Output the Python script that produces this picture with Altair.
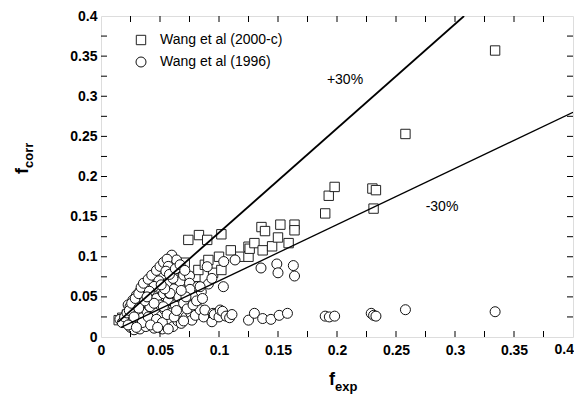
import altair as alt
import pandas as pd

# ---------------- data ----------------
# Wang et al (2000-c) squares
sq_x = [0.015, 0.018, 0.022, 0.028, 0.035, 0.040, 0.045, 0.050, 0.055, 0.058,
        0.060, 0.062, 0.065, 0.066, 0.068, 0.071, 0.074, 0.077, 0.080, 0.0825,
        0.083, 0.088, 0.090, 0.091, 0.095, 0.100, 0.102, 0.102, 0.110, 0.118,
        0.125, 0.125, 0.126, 0.130, 0.136, 0.137, 0.139, 0.145, 0.150, 0.152,
        0.159, 0.164, 0.164, 0.190, 0.193, 0.198, 0.230, 0.233, 0.231, 0.258,
        0.334]
sq_y = [0.021, 0.024, 0.028, 0.033, 0.040, 0.046, 0.050, 0.058, 0.047, 0.064,
        0.055, 0.071, 0.043, 0.078, 0.085, 0.0926, 0.121, 0.052, 0.075, 0.0835,
        0.127, 0.090, 0.121, 0.096, 0.080, 0.100, 0.128, 0.0835, 0.108, 0.100,
        0.1125, 0.100, 0.110, 0.117, 0.137, 0.108, 0.132, 0.113, 0.124, 0.140,
        0.117, 0.140, 0.133, 0.154, 0.176, 0.187, 0.185, 0.183, 0.160, 0.253,
        0.357]

# Wang et al (1996) circles
ci_x = [0.016, 0.018, 0.020, 0.022, 0.023, 0.025, 0.025, 0.027, 0.027, 0.028,
        0.030, 0.030, 0.031, 0.033, 0.033, 0.034, 0.035, 0.036, 0.037, 0.038,
        0.038, 0.039, 0.040, 0.041, 0.042, 0.043, 0.044, 0.044, 0.045, 0.046,
        0.046, 0.047, 0.048, 0.049, 0.050, 0.051, 0.051, 0.052, 0.053, 0.053,
        0.054, 0.055, 0.056, 0.057, 0.058, 0.058, 0.059, 0.060, 0.060, 0.061,
        0.062, 0.063, 0.064, 0.065, 0.065, 0.066, 0.067, 0.067, 0.068, 0.069,
        0.070, 0.070, 0.072, 0.074, 0.075, 0.075, 0.076, 0.077, 0.079, 0.080,
        0.082, 0.084, 0.085, 0.087, 0.088, 0.090, 0.091, 0.094, 0.094, 0.095,
        0.096, 0.100, 0.101, 0.103, 0.1037, 0.104, 0.106, 0.109, 0.111, 0.1136,
        0.125, 0.130, 0.1356, 0.137, 0.144, 0.149, 0.150, 0.151, 0.158, 0.163,
        0.164, 0.190, 0.1935, 0.198, 0.229, 0.231, 0.233, 0.258, 0.334, 0.0415,
        0.0528, 0.0585, 0.0246, 0.0754, 0.084,
        0.024, 0.026, 0.029, 0.032, 0.034, 0.036, 0.040, 0.043, 0.047, 0.050,
        0.053, 0.056, 0.057, 0.055, 0.049, 0.045, 0.041, 0.037, 0.032, 0.028,
        0.035, 0.040, 0.047, 0.052, 0.056, 0.062, 0.064, 0.070, 0.073, 0.078,
        0.081, 0.086, 0.072, 0.068, 0.061, 0.058, 0.063, 0.067, 0.071, 0.023,
        0.030, 0.042, 0.048, 0.057, 0.054, 0.051, 0.045, 0.039]
ci_y = [0.022, 0.018, 0.025, 0.030, 0.040, 0.034, 0.012, 0.046, 0.020, 0.009,
        0.030, 0.052, 0.016, 0.057, 0.010, 0.040, 0.024, 0.050, 0.061, 0.065,
        0.013, 0.032, 0.045, 0.038, 0.068, 0.020, 0.071, 0.056, 0.011, 0.073,
        0.030, 0.048, 0.062, 0.017, 0.040, 0.079, 0.026, 0.010, 0.054, 0.076,
        0.034, 0.014, 0.067, 0.045, 0.022, 0.054, 0.085, 0.102, 0.030, 0.013,
        0.060, 0.040, 0.096, 0.071, 0.020, 0.050, 0.069, 0.031, 0.017, 0.084,
        0.077, 0.042, 0.025, 0.060, 0.076, 0.067, 0.030, 0.021, 0.052, 0.027,
        0.063, 0.034, 0.0565, 0.025, 0.0336, 0.0876, 0.066, 0.073, 0.019, 0.0295,
        0.028, 0.025, 0.0336, 0.032, 0.0627, 0.094, 0.026, 0.024, 0.028, 0.096,
        0.021, 0.0295, 0.086, 0.023, 0.022, 0.091, 0.080, 0.027, 0.0295, 0.089,
        0.076, 0.026, 0.025, 0.026, 0.0295, 0.027, 0.026, 0.034, 0.0315, 0.0378,
        0.0378, 0.0545, 0.0378, 0.0594, 0.0627,
        0.033, 0.042, 0.048, 0.054, 0.062, 0.067, 0.072, 0.077, 0.083, 0.088,
        0.093, 0.097, 0.088, 0.082, 0.070, 0.063, 0.057, 0.045, 0.036, 0.025,
        0.018, 0.025, 0.022, 0.018, 0.028, 0.025, 0.033, 0.020, 0.035, 0.040,
        0.045, 0.048, 0.050, 0.058, 0.073, 0.078, 0.085, 0.090, 0.083, 0.015,
        0.012, 0.015, 0.012, 0.010, 0.060, 0.065, 0.042, 0.050]

# +30% / -30% reference lines (end points)
up_x = [0.0145, 0.3077]
up_y = [0.0189, 0.400]
lo_x = [0.017, 0.400]
lo_y = [0.0119, 0.280]

# axis label values and inner tick values
label_vals = [0, 0.05, 0.1, 0.15, 0.2, 0.25, 0.3, 0.35, 0.4]
tick_vals = [0.025, 0.05, 0.075, 0.1, 0.125, 0.15, 0.175, 0.2, 0.225, 0.25,
             0.275, 0.3, 0.325, 0.35, 0.375]
last_x_label = "0.4"

legend_names = ["Wang et al (2000-c)", "Wang et al (1996)"]

# ---------------- chart ----------------
W, H = 472, 321
FONT = "Liberation Sans"

xs = alt.Scale(domain=[0, 0.4], nice=False, zero=False)
ys = alt.Scale(domain=[0, 0.4], nice=False, zero=False)

sq_df = pd.DataFrame({"x": sq_x, "y": sq_y})
ci_df = pd.DataFrame({"x": ci_x, "y": ci_y})
tick_df = pd.DataFrame({"t": tick_vals})

x_axis = alt.Axis(values=label_vals, ticks=False, domain=False, grid=False,
                  labelExpr="datum.value > 0.39 ? '' : format(datum.value, '.2~f')",
                  title=None, labelFont=FONT, labelFontSize=14, labelFontWeight="bold",
                  labelColor="black", labelPadding=6, labelFlush=False)
y_axis = alt.Axis(values=label_vals, format=".2~f", ticks=False, domain=False, grid=False,
                  title=None, labelFont=FONT, labelFontSize=14, labelFontWeight="bold",
                  labelColor="black", labelPadding=4, labelFlush=False)

base_axes = alt.Chart(pd.DataFrame({"x": [0.0], "y": [0.0]})).mark_point(opacity=0).encode(
    x=alt.X("x:Q", scale=xs, axis=x_axis),
    y=alt.Y("y:Q", scale=ys, axis=y_axis),
)

squares = alt.Chart(sq_df).mark_point(
    shape="square", size=88, filled=True, fill="white", stroke="#222", strokeWidth=1, opacity=1
).encode(x=alt.X("x:Q", scale=xs), y=alt.Y("y:Q", scale=ys))

circles = alt.Chart(ci_df).mark_point(
    shape="circle", size=100, filled=True, fill="white", stroke="#111", strokeWidth=1, opacity=1
).encode(x=alt.X("x:Q", scale=xs), y=alt.Y("y:Q", scale=ys))

upper = alt.Chart(pd.DataFrame({"x": up_x, "y": up_y})).mark_line(
    color="black", strokeWidth=1.8, clip=True
).encode(x=alt.X("x:Q", scale=xs), y=alt.Y("y:Q", scale=ys))

lower = alt.Chart(pd.DataFrame({"x": lo_x, "y": lo_y})).mark_line(
    color="black", strokeWidth=1.3, clip=True
).encode(x=alt.X("x:Q", scale=xs), y=alt.Y("y:Q", scale=ys))

tk = dict(color="black", strokeWidth=1)
tb = alt.Chart(tick_df).mark_rule(**tk).encode(x=alt.X("t:Q", scale=xs), y=alt.value(H), y2=alt.value(H - 6))
tt = alt.Chart(tick_df).mark_rule(**tk).encode(x=alt.X("t:Q", scale=xs), y=alt.value(0), y2=alt.value(6))
tl = alt.Chart(tick_df).mark_rule(**tk).encode(y=alt.Y("t:Q", scale=ys), x=alt.value(0), x2=alt.value(6))
tr = alt.Chart(tick_df).mark_rule(**tk).encode(y=alt.Y("t:Q", scale=ys), x=alt.value(W), x2=alt.value(W - 6))

# last x label, kept inside the page
x_last = alt.Chart(pd.DataFrame({"s": [last_x_label]})).mark_text(
    align="right", baseline="top", font=FONT, fontSize=14, fontWeight="bold", color="black"
).encode(text="s:N", x=alt.value(W + 1), y=alt.value(H + 6))

# legend
leg_sq = alt.Chart(pd.DataFrame({"n": [legend_names[0]]})).mark_point(
    shape="square", size=88, filled=True, fill="white", stroke="#222", strokeWidth=1, opacity=1
).encode(x=alt.value(40), y=alt.value(24))
leg_ci = alt.Chart(pd.DataFrame({"n": [legend_names[1]]})).mark_point(
    shape="circle", size=100, filled=True, fill="white", stroke="#111", strokeWidth=1, opacity=1
).encode(x=alt.value(40), y=alt.value(46))
leg_t1 = alt.Chart(pd.DataFrame({"n": [legend_names[0]]})).mark_text(
    align="left", baseline="middle", font=FONT, fontSize=14, color="black"
).encode(text="n:N", x=alt.value(59), y=alt.value(24))
leg_t2 = alt.Chart(pd.DataFrame({"n": [legend_names[1]]})).mark_text(
    align="left", baseline="middle", font=FONT, fontSize=14, color="black"
).encode(text="n:N", x=alt.value(59), y=alt.value(46))

# line annotations
ann = pd.DataFrame({"t": ["+30%", "-30%"], "px": [244, 341], "py": [64, 191]})
ann_text = alt.Chart(ann).mark_text(
    align="center", baseline="middle", font=FONT, fontSize=14, color="black"
).encode(text="t:N", x=alt.X("px:Q", scale=None), y=alt.Y("py:Q", scale=None))

# axis titles with subscripts
def txt(s, x, y, size, align, angle=0):
    return alt.Chart(pd.DataFrame({"s": [s]})).mark_text(
        align=align, baseline="alphabetic", font=FONT, fontSize=size, fontWeight="bold",
        color="black", angle=angle
    ).encode(text="s:N", x=alt.value(x), y=alt.value(y))

xt1 = txt("f", 234, 369, 18, "right")
xt2 = txt("exp", 234, 375, 13, "left")
yt1 = txt("f", -73, 152, 18, "right", angle=270)
yt2 = txt("corr", -68, 152, 13, "left", angle=270)

chart = alt.layer(
    base_axes, squares, circles, upper, lower, tb, tt, tl, tr, x_last,
    leg_sq, leg_ci, leg_t1, leg_t2, ann_text, xt1, xt2, yt1, yt2
).properties(
    width=W, height=H,
    autosize=alt.AutoSizeParams(type="none"),
    padding={"left": 93, "top": 8, "right": 1, "bottom": 58},
).configure_view(stroke="black", strokeWidth=2).configure(background="white")

chart.save("out.html", embed_options={"renderer": "svg", "actions": False})
